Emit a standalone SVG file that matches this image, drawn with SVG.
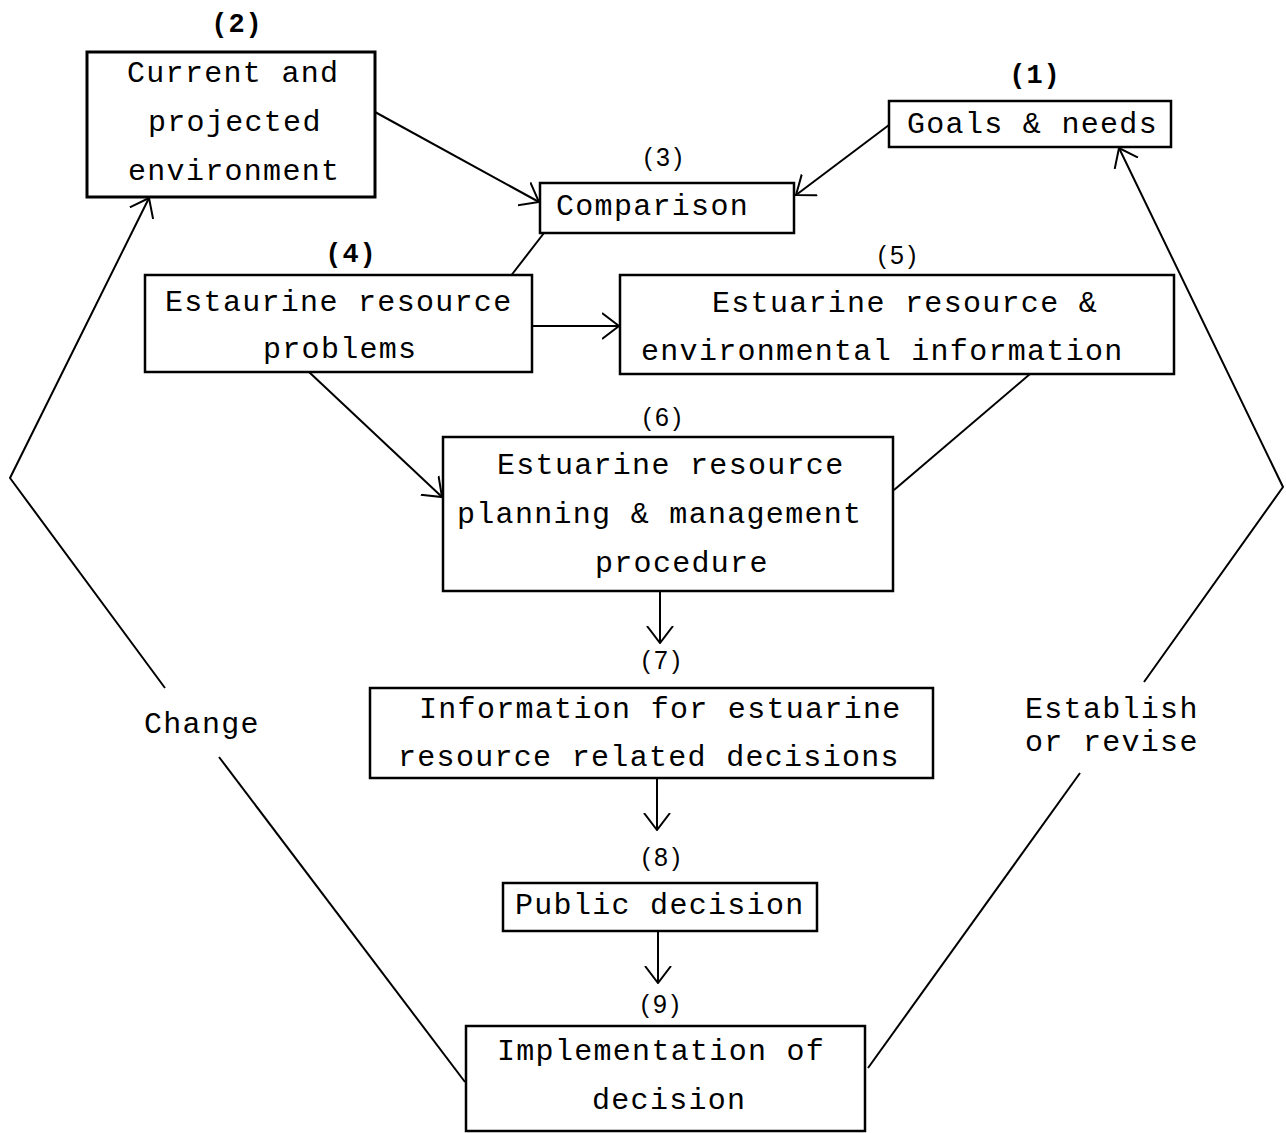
<svg xmlns="http://www.w3.org/2000/svg" width="1286" height="1133" viewBox="0 0 1286 1133">
<style>
.box{fill:#fff;stroke:#000;stroke-width:2.5}
.t{font-family:"Liberation Mono","DejaVu Sans Mono",monospace;font-size:30px;letter-spacing:1.3px;fill:#000}
.n{font-family:"Liberation Sans","DejaVu Sans",sans-serif;font-size:25px;letter-spacing:4px;fill:#000;text-anchor:middle}
.nm{font-family:"Liberation Mono","DejaVu Sans Mono",monospace;font-size:27px;font-weight:bold;letter-spacing:1px;fill:#000;text-anchor:middle}
.c{fill:none;stroke:#000;stroke-width:2}
</style>
<defs>
<marker id="ah" viewBox="0 0 18 28" refX="17" refY="14" markerWidth="18" markerHeight="28" orient="auto" markerUnits="userSpaceOnUse">
<path d="M0,1 L17,14 L0,27" fill="none" stroke="#000" stroke-width="2"/>
</marker>
</defs>
<rect width="1286" height="1133" fill="#fff"/>
<g id="connectors">
<line class="c" x1="375" y1="112" x2="539" y2="202" marker-end="url(#ah)"/>
<line class="c" x1="889" y1="125" x2="796" y2="195" marker-end="url(#ah)"/>
<line class="c" x1="544" y1="233" x2="510" y2="277"/>
<line class="c" x1="532" y1="326" x2="619" y2="326" marker-end="url(#ah)"/>
<line class="c" x1="309" y1="372" x2="442" y2="497" marker-end="url(#ah)"/>
<line class="c" x1="1030" y1="374" x2="894" y2="490"/>
<line class="c" x1="660" y1="591" x2="660" y2="643" marker-end="url(#ah)"/>
<line class="c" x1="657" y1="778" x2="657" y2="830" marker-end="url(#ah)"/>
<line class="c" x1="658" y1="932" x2="658" y2="983" marker-end="url(#ah)"/>
<line class="c" x1="465" y1="1082" x2="219" y2="757"/>
<polyline class="c" points="165,688 10,478 149,198" marker-end="url(#ah)"/>
<line class="c" x1="868" y1="1068" x2="1080" y2="773"/>
<polyline class="c" points="1144,682 1283,487 1119,148" marker-end="url(#ah)"/>
</g>
<g id="node1">
<text class="nm" x="1035" y="83">(1)</text>
<rect class="box" x="889" y="101" width="282" height="46"/>
<text class="t" x="907" y="133">Goals &amp; needs</text>
</g>
<g id="node2">
<text class="nm" x="237" y="32">(2)</text>
<rect class="box" x="87" y="52" width="288" height="145" style="stroke-width:3"/>
<text class="t" x="127" y="82">Current and</text>
<text class="t" x="148" y="131">projected</text>
<text class="t" x="128" y="180">environment</text>
</g>
<g id="node3">
<text class="n" x="665" y="166">(3)</text>
<rect class="box" x="540" y="183" width="254" height="50"/>
<text class="t" x="556" y="215">Comparison</text>
</g>
<g id="node4">
<text class="nm" x="351" y="262">(4)</text>
<rect class="box" x="145" y="275" width="387" height="97"/>
<text class="t" x="165" y="311">Estaurine resource</text>
<text class="t" x="263" y="358">problems</text>
</g>
<g id="node5">
<text class="n" x="899" y="264">(5)</text>
<rect class="box" x="620" y="275" width="554" height="99"/>
<text class="t" x="712" y="312">Estuarine resource &amp;</text>
<text class="t" x="641" y="360">environmental information</text>
</g>
<g id="node6">
<text class="n" x="664" y="426">(6)</text>
<rect class="box" x="443" y="437" width="450" height="154"/>
<text class="t" x="497" y="474">Estuarine resource</text>
<text class="t" x="457" y="523">planning &amp; management</text>
<text class="t" x="595" y="572">procedure</text>
</g>
<g id="node7">
<text class="n" x="663" y="669">(7)</text>
<rect class="box" x="370" y="688" width="563" height="90"/>
<text class="t" x="419" y="718">Information for estuarine</text>
<text class="t" x="398" y="766">resource related decisions</text>
</g>
<g id="node8">
<text class="n" x="663" y="866">(8)</text>
<rect class="box" x="503" y="883" width="314" height="48"/>
<text class="t" x="515" y="914">Public decision</text>
</g>
<g id="node9">
<text class="n" x="662" y="1013">(9)</text>
<rect class="box" x="466" y="1026" width="399" height="105"/>
<text class="t" x="497" y="1060">Implementation of</text>
<text class="t" x="592" y="1109">decision</text>
</g>
<g id="labels">
<text class="t" x="144" y="733">Change</text>
<text class="t" x="1025" y="718">Establish</text>
<text class="t" x="1025" y="751">or revise</text>
</g>
</svg>
